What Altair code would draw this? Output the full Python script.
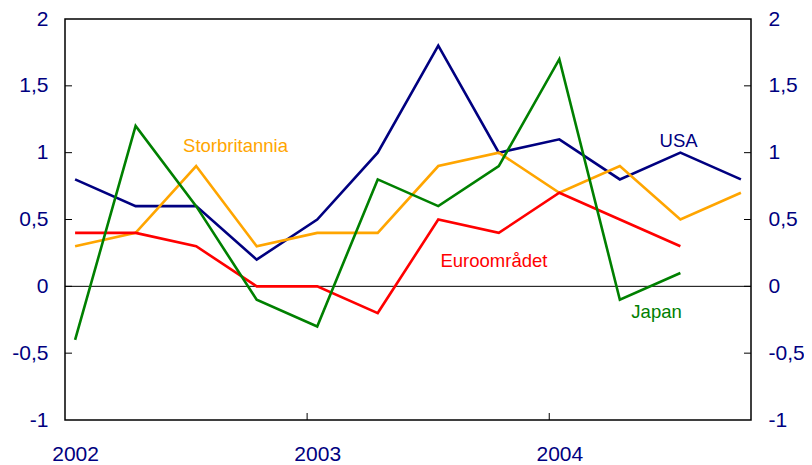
import altair as alt
import pandas as pd

# Quarterly data 2002 Q1 - 2004 Q4
quarters = ["2002K1", "2002K2", "2002K3", "2002K4",
            "2003K1", "2003K2", "2003K3", "2003K4",
            "2004K1", "2004K2", "2004K3", "2004K4"]
usa = [0.8, 0.6, 0.6, 0.2, 0.5, 1.0, 1.8, 1.0, 1.1, 0.8, 1.0, 0.8]
storbritannia = [0.3, 0.4, 0.9, 0.3, 0.4, 0.4, 0.9, 1.0, 0.7, 0.9, 0.5, 0.7]
euroomradet = [0.4, 0.4, 0.3, 0.0, 0.0, -0.2, 0.5, 0.4, 0.7, 0.5, 0.3, None]
japan = [-0.4, 1.2, 0.6, -0.1, -0.3, 0.8, 0.6, 0.9, 1.7, -0.1, 0.1, None]

series_names = ["USA", "Storbritannia", "Euroområdet", "Japan"]
series_values = [usa, storbritannia, euroomradet, japan]
series_colors = ["#000080", "#FFA500", "#FF0000", "#008000"]

year_labels = ["2002", "2003", "2004"]
y_ticks = [-1, -0.5, 0, 0.5, 1, 1.5, 2]

# label annotations (month-index x, value y)
label_text = ["Storbritannia", "USA", "Euroområdet", "Japan"]
label_colors = ["#FFA500", "#000080", "#FF0000", "#008000"]
label_x = [8.45, 30.41, 21.26, 29.32]
label_y = [1.05, 1.09, 0.19, -0.19]

W, H = 686, 401
TICK = 7
AXIS_COLOR = "#000080"
FONT = "Liberation Sans"
LFS = 21

# month index position: each quarter plotted mid first month
rows = []
for name, vals in zip(series_names, series_values):
    for i, v in enumerate(vals):
        if v is not None:
            rows.append({"series": name, "quarter": quarters[i], "x": 3 * i + 0.5, "value": v})
df = pd.DataFrame(rows)

xscale = alt.Scale(domain=[0, 34], nice=False, zero=False)
yscale = alt.Scale(domain=[-1, 2], nice=False, zero=False)

left_axis = alt.Axis(values=y_ticks, tickSize=0, domain=False, grid=False,
                     labelExpr="replace(toString(datum.value), '.', ',')",
                     labelFont=FONT, labelFontSize=LFS, labelColor=AXIS_COLOR,
                     labelPadding=17, title=None)
right_axis = alt.Axis(values=y_ticks, tickSize=0, domain=False, grid=False, orient="right",
                      labelExpr="replace(toString(datum.value), '.', ',')",
                      labelFont=FONT, labelFontSize=LFS, labelColor=AXIS_COLOR,
                      labelPadding=17, title=None)
x_axis = alt.Axis(values=[0.5, 12.5, 24.5], tickSize=0, domain=False, grid=False,
                  labelExpr="toString(2002 + floor(datum.value / 12))",
                  labelFont=FONT, labelFontSize=LFS, labelColor=AXIS_COLOR,
                  labelPadding=23, title=None)

layers = []

# zero line with right axis
zero_df = pd.DataFrame({"v": [0]})
zero = alt.Chart(zero_df).mark_rule(color="black", strokeWidth=1).encode(
    y=alt.Y("v:Q", scale=yscale, axis=right_axis)
)
layers.append(zero)

# y ticks (inward) left and right
yt_df = pd.DataFrame({"v": y_ticks[1:-1]})
yt_left = alt.Chart(yt_df).mark_rule(color="black", strokeWidth=1).encode(
    y=alt.Y("v:Q", scale=yscale, axis=None), x=alt.value(0), x2=alt.value(TICK)
)
yt_right = alt.Chart(yt_df).mark_rule(color="black", strokeWidth=1).encode(
    y=alt.Y("v:Q", scale=yscale, axis=None), x=alt.value(W - TICK), x2=alt.value(W)
)
layers += [yt_left, yt_right]

# x ticks at year boundaries
xt_df = pd.DataFrame({"m": [12, 24]})
xt = alt.Chart(xt_df).mark_rule(color="black", strokeWidth=1).encode(
    x=alt.X("m:Q", scale=xscale, axis=x_axis), y=alt.value(H - TICK), y2=alt.value(H)
)
layers.append(xt)

first = True
for name, color in zip(series_names, series_colors):
    sub = df[df["series"] == name]
    ln = alt.Chart(sub).mark_line(color=color, strokeWidth=2.6).encode(
        x=alt.X("x:Q", scale=xscale, axis=x_axis),
        y=alt.Y("value:Q", scale=yscale, axis=left_axis if first else None),
    )
    first = False
    layers.append(ln)

lab_df = pd.DataFrame({"text": label_text, "x": label_x, "y": label_y, "color": label_colors})
labels = alt.Chart(lab_df).mark_text(font=FONT, fontSize=18.5, align="center", baseline="middle").encode(
    x=alt.X("x:Q", scale=xscale, axis=x_axis),
    y=alt.Y("y:Q", scale=yscale, axis=None),
    text="text:N",
    color=alt.Color("color:N", scale=None),
)
layers.append(labels)

chart = alt.layer(*layers).resolve_scale(y="independent").properties(
    width=W, height=H,
    autosize=alt.AutoSizeParams(type="none"),
    padding={"left": 57, "top": 11, "right": 53, "bottom": 44},
).configure_view(stroke="black", strokeWidth=1.5)

chart.save("out.html", embed_options={"renderer": "svg", "actions": False})
